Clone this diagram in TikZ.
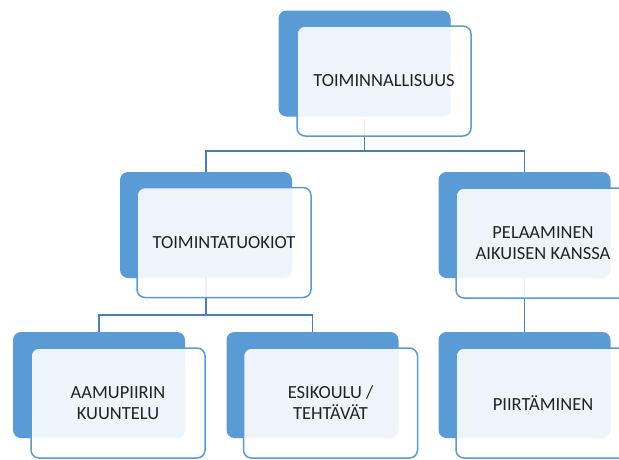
\documentclass[tikz,border=0pt]{standalone}
\usepackage{fontspec}
\setmainfont{Carlito}
\definecolor{backblue}{HTML}{5B9BD5}
\definecolor{lineblue}{HTML}{4A7EBB}
\definecolor{txt}{HTML}{222222}
\tikzset{
  backbox/.style={fill=backblue, rounded corners=8pt, minimum width=172pt, minimum height=106pt, inner sep=0pt},
  frontbox/.style={draw=backblue, line width=1.5pt, fill=white, fill opacity=0.9, text opacity=1, rounded corners=8pt, minimum width=174pt, minimum height=110pt, inner sep=0pt, align=center, text=txt, font=\fontsize{18.5}{21}\selectfont},
  conn/.style={draw=lineblue, line width=1.5pt}
}
\begin{document}
\begin{tikzpicture}[x=1pt,y=-1pt]
\useasboundingbox (0,0) rectangle (619,459);
\clip (0,0) rectangle (619,459);
\fill[white] (0,0) rectangle (619,459);
% back boxes
\node[backbox] (tb) at (364.5,63.5) {};
\node[backbox] (lb) at (206,225) {};
\node[backbox] (rb) at (524.5,225) {};
\node[backbox] (llb) at (99,385) {};
\node[backbox] (lmb) at (312.5,385) {};
\node[backbox] (rrb) at (524.5,385) {};
% connectors
\draw[conn] (tb.south) -- +(0,34.5) -| (lb.north);
\draw[conn] (tb.south) -- +(0,34.5) -| (rb.north);
\draw[conn] (lb.south) -- +(0,37) -| (llb.north);
\draw[conn] (lb.south) -- +(0,37) -| (lmb.north);
\draw[conn] (rb.south) -- (rrb.north);
% front boxes
\node[frontbox] (tf) at (384,81) {TOIMINNALLISUUS};
\node[frontbox] (lf) at (224,242.5) {TOIMINTATUOKIOT};
\node[frontbox] (rf) at (543,243) {PELAAMINEN\\AIKUISEN KANSSA};
\node[frontbox] (llf) at (118,403) {AAMUPIIRIN\\KUUNTELU};
\node[frontbox] (lmf) at (330.5,403) {ESIKOULU /\\TEHTÄVÄT};
\node[frontbox] (rrf) at (543,403) {PIIRTÄMINEN};
\end{tikzpicture}
\end{document}
